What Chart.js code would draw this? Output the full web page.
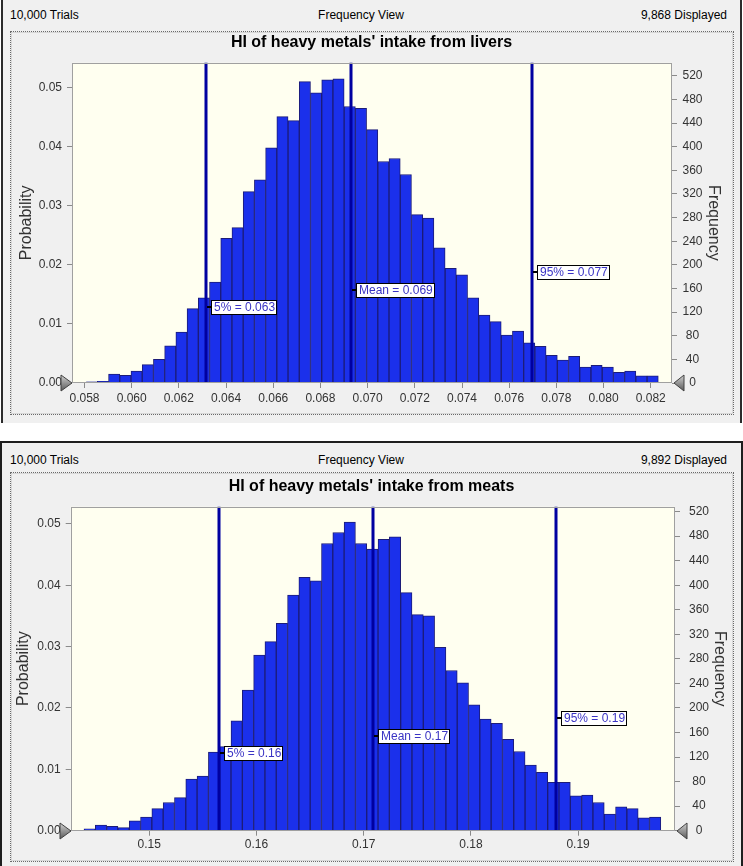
<!DOCTYPE html>
<html>
<head>
<meta charset="utf-8">
<script src="https://cdn.jsdelivr.net/npm/chart.js@4.4.1/dist/chart.umd.min.js"></script>
<style>
  body { margin: 0; background: #fff; width: 743px; height: 866px; position: relative; overflow: hidden;
         font-family: "Liberation Sans", Arial, sans-serif; }
  .panel { position: absolute; background: #f0f0f0; box-sizing: border-box; }
  #bg1 { left: 1px; top: 0; width: 741px; height: 423px; border-left: 2px solid #2b2b2b; border-right: 2px solid #2b2b2b; }
  #bg2 { left: 0; top: 441px; width: 743px; height: 430px; border: 2px solid #1e1e1e; }
  .frame { position: absolute; box-sizing: border-box; border: 1px dotted #6a6a6a; box-shadow: inset 0 0 0 1px #d8d8d8; }
  #f1 { left: 10px; top: 31px; width: 724px; height: 384px; }
  #f2 { left: 10px; top: 472px; width: 724px; height: 390px; }
  .hdr { position: absolute; font-size: 12px; line-height: 14px; color: #000; white-space: nowrap; }
  canvas { position: absolute; left: 0; }
  #c1 { top: 0; }
  #c2 { top: 442px; }
</style>
</head>
<body>
<div class="panel" id="bg1"></div>
<div class="panel" id="bg2"></div>
<div class="frame" id="f1"></div>
<div class="frame" id="f2"></div>

<div class="hdr" style="left:10px;top:8px">10,000 Trials</div>
<div class="hdr" style="left:261px;top:8px;width:200px;text-align:center">Frequency View</div>
<div class="hdr" style="right:16px;top:8px">9,868 Displayed</div>

<div class="hdr" style="left:10px;top:453px">10,000 Trials</div>
<div class="hdr" style="left:261px;top:453px;width:200px;text-align:center">Frequency View</div>
<div class="hdr" style="right:16px;top:453px">9,892 Displayed</div>

<canvas id="c1" width="743" height="420"></canvas>
<canvas id="c2" width="743" height="424"></canvas>

<script>
// ---- livers ----
const liverCounts = [2, 3, 15, 13, 20, 31, 40, 63, 86, 126,
                     144, 171, 245, 263, 324, 344, 398, 451, 444, 510,
                     491, 513, 515, 468, 465, 429, 375, 380, 353, 285,
                     279, 229, 194, 183, 144, 115, 104, 81, 88, 68,
                     62, 47, 39, 45, 27, 30, 27, 18, 20, 12, 12];
const liverBinStart = 0.058068;
const liverBinWidth = 0.0004755;
const liverXTicks = [0.058, 0.060, 0.062, 0.064, 0.066, 0.068, 0.070, 0.072, 0.074, 0.076, 0.078, 0.080, 0.082];
const liverMarkerValues = [0.06314, 0.06931, 0.07697];
const liverMarkerText = ['5% = 0.063', 'Mean = 0.069', '95% = 0.077'];

// ---- meats ----
const meatCounts = [3, 9, 7, 5, 16, 22, 36, 46, 54, 84,
                    89, 128, 137, 179, 229, 286, 308, 338, 384, 413,
                    407, 468, 486, 503, 468, 459, 475, 479, 388, 352,
                    350, 299, 261, 241, 205, 182, 175, 149, 129, 107,
                    95, 79, 79, 57, 58, 46, 27, 39, 36, 21, 22];
const meatBinStart = 0.14391;
const meatBinWidth = 0.001055;
const meatXTicks = [0.15, 0.16, 0.17, 0.18, 0.19];
const meatMarkerValues = [0.15653, 0.17087, 0.18791];
const meatMarkerText = ['5% = 0.16', 'Mean = 0.17', '95% = 0.19'];

// shared axes
const probTicks = [0, 0.01, 0.02, 0.03, 0.04, 0.05];
const freqTicks = [0, 40, 80, 120, 160, 200, 240, 280, 320, 360, 400, 440, 480, 520];
const TRIALS = 10000;

const FONT = '"Liberation Sans", Arial, sans-serif';
Chart.defaults.font.family = FONT;

// plot decorations: ivory background, percentile lines and tags, frame, grabbers
const histDecor = {
  id: 'histDecor',
  beforeDraw(chart) {
    const {ctx, chartArea: a} = chart;
    ctx.save();
    ctx.fillStyle = '#fffff0';
    ctx.fillRect(a.left, a.top, a.width, a.height);
    ctx.restore();
  },
  afterDatasetsDraw(chart, args, o) {
    const {ctx, chartArea: a, scales} = chart;
    const xs = scales.x, ys = scales.yF;
    ctx.save();
    ctx.strokeStyle = '#0000a0';
    ctx.lineWidth = 3;
    o.values.forEach(v => {
      const px = Math.round(xs.getPixelForValue(v));
      ctx.beginPath();
      ctx.moveTo(px, a.top);
      ctx.lineTo(px, a.bottom);
      ctx.stroke();
    });

    ctx.strokeStyle = '#a0a0a0';
    ctx.lineWidth = 1;
    ctx.strokeRect(Math.round(a.left) + 0.5, Math.round(a.top) + 0.5, Math.round(a.width) - 1, Math.round(a.height) - 1);

    ctx.font = '12px ' + FONT;
    ctx.textBaseline = 'middle';
    o.values.forEach((v, i) => {
      const px = Math.round(xs.getPixelForValue(v));
      const py = Math.round(ys.getPixelForValue(o.levels[i]));
      const w = Math.round(ctx.measureText(o.text[i]).width) + 5;
      const bx = px + 5;
      ctx.fillStyle = '#000';
      ctx.fillRect(px + 1, py - 1, bx - px - 1, 2);
      ctx.fillStyle = '#fff';
      ctx.fillRect(bx, py - 7, w, 15);
      ctx.strokeStyle = '#000';
      ctx.strokeRect(bx + 0.5, py - 6.5, w - 1, 14);
      ctx.fillStyle = '#3a33c4';
      ctx.fillText(o.text[i], bx + 3, py + 1);
    });
    ctx.restore();
  },
  afterDraw(chart) {
    const {ctx, chartArea: a} = chart;
    const yb = Math.round(a.bottom);
    const tri = (tipX, baseX) => {
      const g = ctx.createLinearGradient(0, yb - 8, 0, yb + 8);
      g.addColorStop(0, '#d0d0d0');
      g.addColorStop(1, '#5a5a5a');
      ctx.beginPath();
      ctx.moveTo(tipX, yb);
      ctx.lineTo(baseX, yb - 8);
      ctx.lineTo(baseX, yb + 8);
      ctx.closePath();
      ctx.fillStyle = g;
      ctx.fill();
      ctx.strokeStyle = '#404040';
      ctx.lineWidth = 1;
      ctx.stroke();
    };
    ctx.save();
    tri(Math.round(a.left), Math.round(a.left) - 11);
    tri(Math.round(a.right) + 2, Math.round(a.right) + 12);
    ctx.restore();
  }
};

function makeHist(id, d) {
  const points = d.counts.map((c, i) => ({x: d.binStart + (i + 0.5) * d.binWidth, y: c}));
  const setTicks = arr => scale => { scale.ticks = arr.map(v => ({value: v})); };
  return new Chart(document.getElementById(id), {
    type: 'bar',
    data: {
      datasets: [{
        data: points,
        xAxisID: 'x',
        yAxisID: 'yF',
        backgroundColor: '#1b30eb',
        borderColor: '#1c1c78',
        borderWidth: 1,
        barPercentage: 1,
        categoryPercentage: 1
      }]
    },
    options: {
      responsive: false,
      animation: false,
      devicePixelRatio: 1,
      layout: {padding: 0},
      plugins: {
        legend: {display: false},
        tooltip: {enabled: false},
        title: {
          display: true,
          text: d.title,
          color: '#000',
          font: {size: 16, weight: 'bold'},
          padding: {top: d.titleTop, bottom: d.titleBottom}
        },
        histDecor: {values: d.markerValues, text: d.markerText, levels: d.labelLevels}
      },
      scales: {
        x: {
          type: 'linear',
          position: 'bottom',
          min: d.xMin,
          max: d.xMax,
          offset: false,
          afterBuildTicks: setTicks(d.xTicks),
          afterFit: s => { s.height = d.xAxisH; },
          grid: {drawOnChartArea: false, drawTicks: true, tickLength: 5, color: '#8a8a8a', offset: false},
          border: {display: false},
          ticks: {
            color: '#333',
            font: {size: 12},
            padding: d.xPad,
            maxRotation: 0,
            autoSkip: false,
            callback: v => v.toFixed(d.xDigits)
          }
        },
        yP: {
          position: 'left',
          min: 0,
          max: d.yMax / TRIALS,
          afterBuildTicks: setTicks(probTicks),
          afterFit: s => { s.width = d.leftW; },
          grid: {drawOnChartArea: false, drawTicks: true, tickLength: 5, color: '#8a8a8a'},
          border: {display: false},
          title: {display: true, text: 'Probability', color: '#333', font: {size: 16}, padding: {top: d.leftTitlePad, bottom: 0}},
          ticks: {color: '#333', font: {size: 12}, padding: 5, callback: v => v.toFixed(2)}
        },
        yF: {
          position: 'right',
          min: 0,
          max: d.yMax,
          afterBuildTicks: setTicks(freqTicks),
          afterFit: s => { s.width = d.rightW; },
          grid: {drawOnChartArea: false, drawTicks: true, tickLength: 5, color: '#8a8a8a'},
          border: {display: false},
          title: {display: true, text: 'Frequency', color: '#333', font: {size: 16}, padding: {top: d.rightTitlePad, bottom: 0}},
          ticks: {color: '#333', font: {size: 12}, padding: d.rightPad, crossAlign: 'center', callback: v => String(v)}
        }
      }
    },
    plugins: [histDecor]
  });
}

makeHist('c1', {
  title: "HI of heavy metals' intake from livers",
  counts: liverCounts, binStart: liverBinStart, binWidth: liverBinWidth,
  xTicks: liverXTicks, xDigits: 3, xMin: 0.05747, xMax: 0.0829, yMax: 542,
  markerValues: liverMarkerValues, markerText: liverMarkerText, labelLevels: [129, 158, 188],
  titleTop: 32.8, titleBottom: 10.8, xAxisH: 37, xPad: 3,
  leftW: 72, rightW: 71, leftTitlePad: 17.4, rightTitlePad: 20.4, rightPad: 5.5
});

makeHist('c2', {
  title: "HI of heavy metals' intake from meats",
  counts: meatCounts, binStart: meatBinStart, binWidth: meatBinWidth,
  xTicks: meatXTicks, xDigits: 2, xMin: 0.14267, xMax: 0.19904, yMax: 528,
  markerValues: meatMarkerValues, markerText: meatMarkerText, labelLevels: [127, 154, 184],
  titleTop: 35.1, titleBottom: 10.4, xAxisH: 35.3, xPad: 2,
  leftW: 70.7, rightW: 68, leftTitlePad: 14.4, rightTitlePad: 14, rightPad: 9
});
</script>
</body>
</html>
